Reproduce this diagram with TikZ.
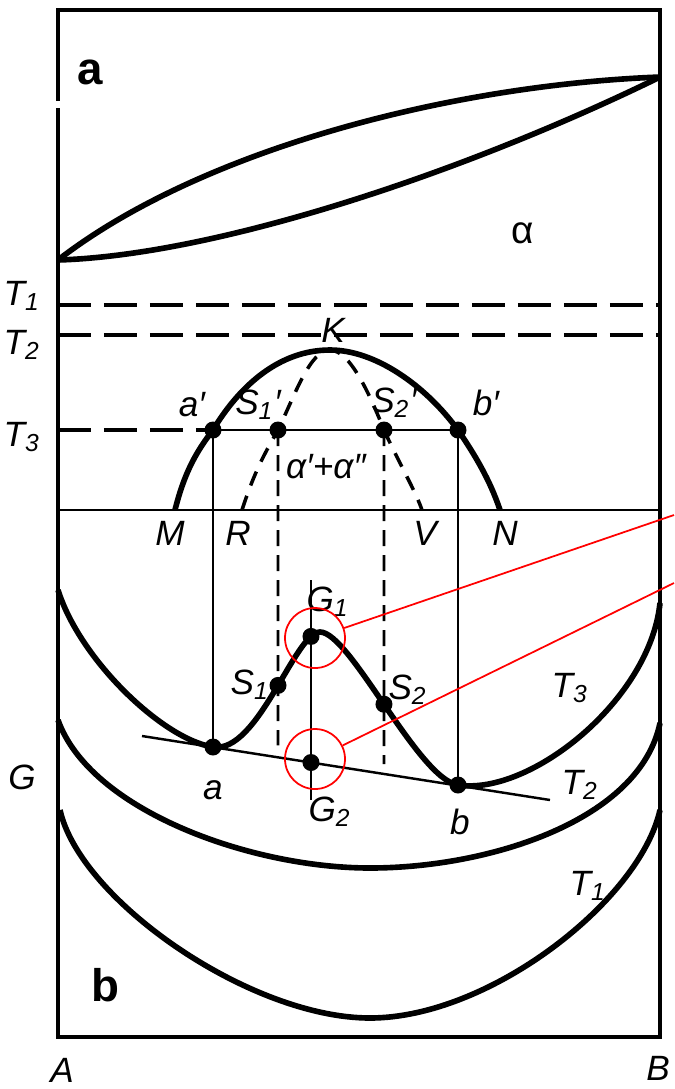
\documentclass[tikz,border=0pt]{standalone}
\usepackage{fontspec}
\setmainfont{Liberation Sans}
\usetikzlibrary{intersections}
\tikzset{
  frame line/.style={line width=0.9pt, black},
  main curve/.style={line width=1.6pt, black},
  thin line/.style={line width=0.7pt, black},
  temp line/.style={line width=1.1pt, dash pattern=on 3.3mm off 1.3mm},
  spinodal line/.style={line width=1pt, dash pattern=on 1.5mm off 1.1mm},
  drop line/.style={line width=0.8pt, dash pattern=on 1.6mm off 0.9mm},
  dot/.style={circle, fill=black, inner sep=0pt, minimum size=1.7mm},
  lbl/.style={font=\fontsize{10}{12}\selectfont\itshape, inner sep=1pt},
  panel/.style={font=\fontsize{13}{15}\selectfont\bfseries, inner sep=1pt},
  mark ring/.style={circle, draw=red, line width=0.5pt, minimum size=6mm, inner sep=0pt},
  pointer/.style={red, line width=0.5pt},
}

\begin{document}
\begin{tikzpicture}[x=0.1mm, y=-0.1mm]
  \useasboundingbox (0,0) rectangle (674,1089);
  % frame
  \draw[frame line] (58,101) -- (58,10) -- (660,10) -- (660,1037) -- (58,1037) -- (58,108);

  % ---- a: phase diagram ----
  \node[panel] at (90,72) {a};
  \draw[main curve] (58,260) .. controls (200,150) and (450,85) .. (660,77);
  \draw[main curve] (58,260) .. controls (220,255) and (470,170) .. (660,77);
  \node[font=\fontsize{11}{13}\selectfont] at (523,233) {α};

  \draw[temp line] (58,305) -- (660,305);
  \draw[temp line] (58,335) -- (660,335);
  \node[lbl] at (22,296) {T\textsubscript{1}};
  \node[lbl] at (22,345) {T\textsubscript{2}};
  \node[lbl] at (22,437) {T\textsubscript{3}};

  \coordinate (M) at (175,510);
  \coordinate (N) at (500,510);
  \coordinate (R) at (242,510);
  \coordinate (V) at (422,510);
  \coordinate (K) at (330,350);
  \coordinate (ap) at (213,430);
  \coordinate (bp) at (458,430);
  \coordinate (s1p) at (278,430);
  \coordinate (s2p) at (384,430);

  \draw[thin line] (58,510) -- (660,510);
  % binodal and spinodal domes
  \draw[main curve] (M) .. controls (185,470) and (198,449.5) .. (ap)
    .. controls (240,385) and (280,350) .. (K)
    .. controls (375,350) and (425,385) .. (bp)
    .. controls (475,455) and (490,480) .. (N);
  \draw[spinodal line] (R) .. controls (255,470) and (265,453) .. (s1p)
    .. controls (295,395) and (310,350) .. (K)
    .. controls (350,350) and (370,395) .. (s2p)
    .. controls (400,465) and (415,490) .. (V);
  \draw[temp line] (58,430) -- (ap);
  \draw[thin line] (ap) -- (bp);

  \node[lbl] at (333,330) {K};
  \node[lbl] at (192,405) {a′};
  \node[lbl] at (258,405) {S\textsubscript{1}′};
  \node[lbl] at (394,403) {S\textsubscript{2}′};
  \node[lbl] at (486,403) {b′};
  \node[lbl] at (326,467) {α′+α″};
  \node[lbl] at (170,533) {M};
  \node[lbl] at (238,533) {R};
  \node[lbl] at (425,533) {V};
  \node[lbl] at (505,533) {N};

  % ---- b: free energy curves ----
  \coordinate (a) at (213,747);
  \coordinate (b) at (458,785);
  \coordinate (tg1) at (142,736);
  \coordinate (tg2) at (550,800);
  \coordinate (gtop) at (311,580);
  \coordinate (gbot) at (311,800);

  \draw[main curve, name path=gthree] (58,590) .. controls (80,660) and (163,739.2) .. (a)
    .. controls (258,754) and (295,632) .. (320,632)
    .. controls (350,632) and (418,778.8) .. (b)
    .. controls (530,796) and (650,700) .. (660,603);
  \draw[main curve] (58,720) .. controls (90,810) and (250,868) .. (370,868)
    .. controls (490,868) and (640,820) .. (660,723);
  \draw[main curve] (60,810) .. controls (80,900) and (250,1018) .. (370,1018)
    .. controls (490,1018) and (640,900) .. (660,810);

  \draw[thin line, name path=tangent] (tg1) -- (tg2);
  \draw[thin line, name path=gvert] (gtop) -- (gbot);
  \draw[thin line] (ap) -- (a);
  \draw[thin line] (bp) -- (b);
  \path[name path=s1vert] (s1p) -- ++(0,400);
  \path[name path=s2vert] (s2p) -- ++(0,400);
  \path[name intersections={of=gthree and s1vert, by=s1}];
  \path[name intersections={of=gthree and s2vert, by=s2}];
  \path[name intersections={of=gthree and gvert, by=G1}];
  \path[name intersections={of=tangent and gvert, by=G2}];
  \draw[drop line] (s1p) -- ([yshift=-6mm]s1);
  \draw[drop line] (s2p) -- ([yshift=-6mm]s2);

  \foreach \p in {ap, bp, s1p, s2p, a, b, s1, s2, G1, G2}
    \node[dot] at (\p) {};

  \node[lbl] at (328,602) {G\textsubscript{1}};
  \node[lbl] at (250,685) {S\textsubscript{1}};
  \node[lbl] at (408,690) {S\textsubscript{2}};
  \node[lbl] at (213,790) {a};
  \node[lbl] at (330,812) {G\textsubscript{2}};
  \node[lbl] at (460,822) {b};
  \node[lbl] at (570,688) {T\textsubscript{3}};
  \node[lbl] at (580,785) {T\textsubscript{2}};
  \node[lbl] at (588,886) {T\textsubscript{1}};
  \node[lbl] at (22,777) {G};
  \node[panel] at (105,985) {b};
  \node[lbl] at (62,1070) {A};
  \node[lbl] at (658,1068) {B};

  % highlight rings
  \node[mark ring] (ring1) at (315,638) {};
  \node[mark ring] (ring2) at (315,759) {};
  \coordinate (end1) at (674,515);
  \coordinate (end2) at (674,583);
  \draw[pointer] (ring1) -- (end1);
  \draw[pointer] (ring2) -- (end2);
\end{tikzpicture}
\end{document}
